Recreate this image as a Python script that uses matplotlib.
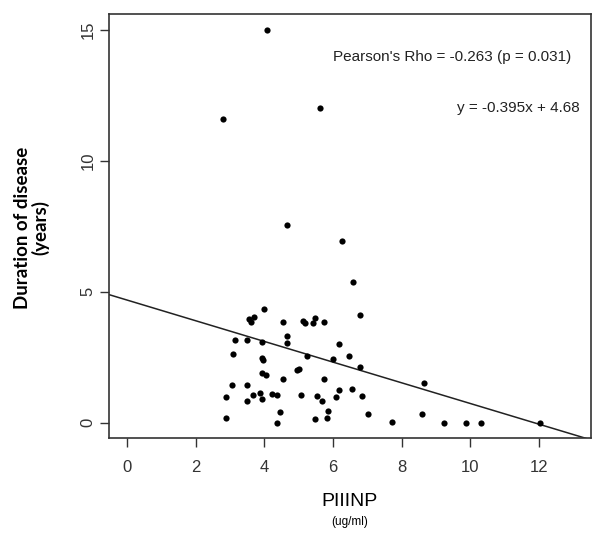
import matplotlib
matplotlib.use("Agg")
import matplotlib.pyplot as plt

# PIIINP (ug/ml) vs duration of disease (years)
piiinp = [4.07, 2.80, 5.62, 4.65, 6.28, 6.59, 3.99, 3.56, 3.69, 3.61,
          4.54, 5.14, 5.18, 5.41, 5.47, 5.75, 6.80, 4.65, 4.65, 3.16,
          3.51, 3.95, 6.17, 3.10, 5.26, 3.93, 3.96, 5.99, 6.46, 6.80,
          4.97, 5.01, 3.95, 4.06, 4.54, 5.73, 3.07, 3.51, 6.19, 6.55,
          2.90, 3.66, 3.89, 3.95, 3.51, 4.24, 4.38, 5.06, 5.55, 5.68,
          6.10, 6.84, 2.88, 4.47, 4.36, 5.49, 5.82, 5.87, 7.02, 8.65,
          7.71, 8.59, 9.23, 9.87, 10.31, 12.03]
duration = [14.99, 11.61, 12.03, 7.55, 6.94, 5.36, 4.33, 3.96, 4.03, 3.83,
            3.83, 3.87, 3.79, 3.80, 3.98, 3.83, 4.10, 3.29, 3.05, 3.16,
            3.14, 3.06, 2.99, 2.60, 2.53, 2.45, 2.40, 2.41, 2.55, 2.14,
            1.99, 2.03, 1.88, 1.80, 1.65, 1.67, 1.45, 1.44, 1.26, 1.29,
            0.99, 1.07, 1.14, 0.91, 0.84, 1.10, 1.06, 1.06, 1.00, 0.84,
            0.99, 1.03, 0.19, 0.42, 0.00, 0.15, 0.19, 0.46, 0.31, 1.51,
            0.04, 0.34, 0.00, 0.00, 0.00, 0.00]

slope = -0.395
intercept = 4.68
rho_text = "Pearson's Rho = -0.263 (p = 0.031)"
eq_text = "y = -0.395x + 4.68"

x_ticks = [0, 2, 4, 6, 8, 10, 12]
y_ticks = [0, 5, 10, 15]

plt.rcParams['font.family'] = ['Liberation Sans', 'DejaVu Sans']

fig = plt.figure(figsize=(6, 5.45), dpi=100)
ax = fig.add_axes([0.1817, 0.1958, 0.8033, 0.7785])

ax.scatter(piiinp, duration, s=20, color="black", zorder=3, linewidths=0)
ax.axline((0, intercept), slope=slope, color="#222222", linewidth=1.1)

ax.set_xlim(-0.52, 13.52)
ax.set_ylim(-0.6, 15.6)
ax.set_xticks(x_ticks)
ax.set_yticks(y_ticks)
ax.tick_params(direction="out", length=6.5, width=1, color="#333333",
               labelsize=12, labelcolor="#333333")
ax.tick_params(axis="x", pad=9)
ax.tick_params(axis="y", pad=3)
for lab in ax.get_yticklabels():
    lab.set_rotation(90)
    lab.set_va("center")
for sp in ax.spines.values():
    sp.set_linewidth(1.2)
    sp.set_color("#333333")

ax.text(0.960, 0.899, rho_text, transform=ax.transAxes, ha="right",
        va="center", fontsize=11, color="#222222")
ax.text(0.977, 0.778, eq_text, transform=ax.transAxes, ha="right",
        va="center", fontsize=11, color="#222222")

fig.text(0.037, 0.582, "Duration of disease", rotation=90, ha="center",
         va="center", fontsize=13.5, fontweight="bold", family="Lato")
fig.text(0.068, 0.582, "(years)", rotation=90, ha="center",
         va="center", fontsize=13.5, fontweight="bold", family="Lato")
fig.text(0.583, 0.079, "PIIINP", ha="center", va="center", fontsize=14)
fig.text(0.583, 0.043, "(ug/ml)", ha="center", va="center", fontsize=8.5)

fig.savefig("out.png", dpi=100)
